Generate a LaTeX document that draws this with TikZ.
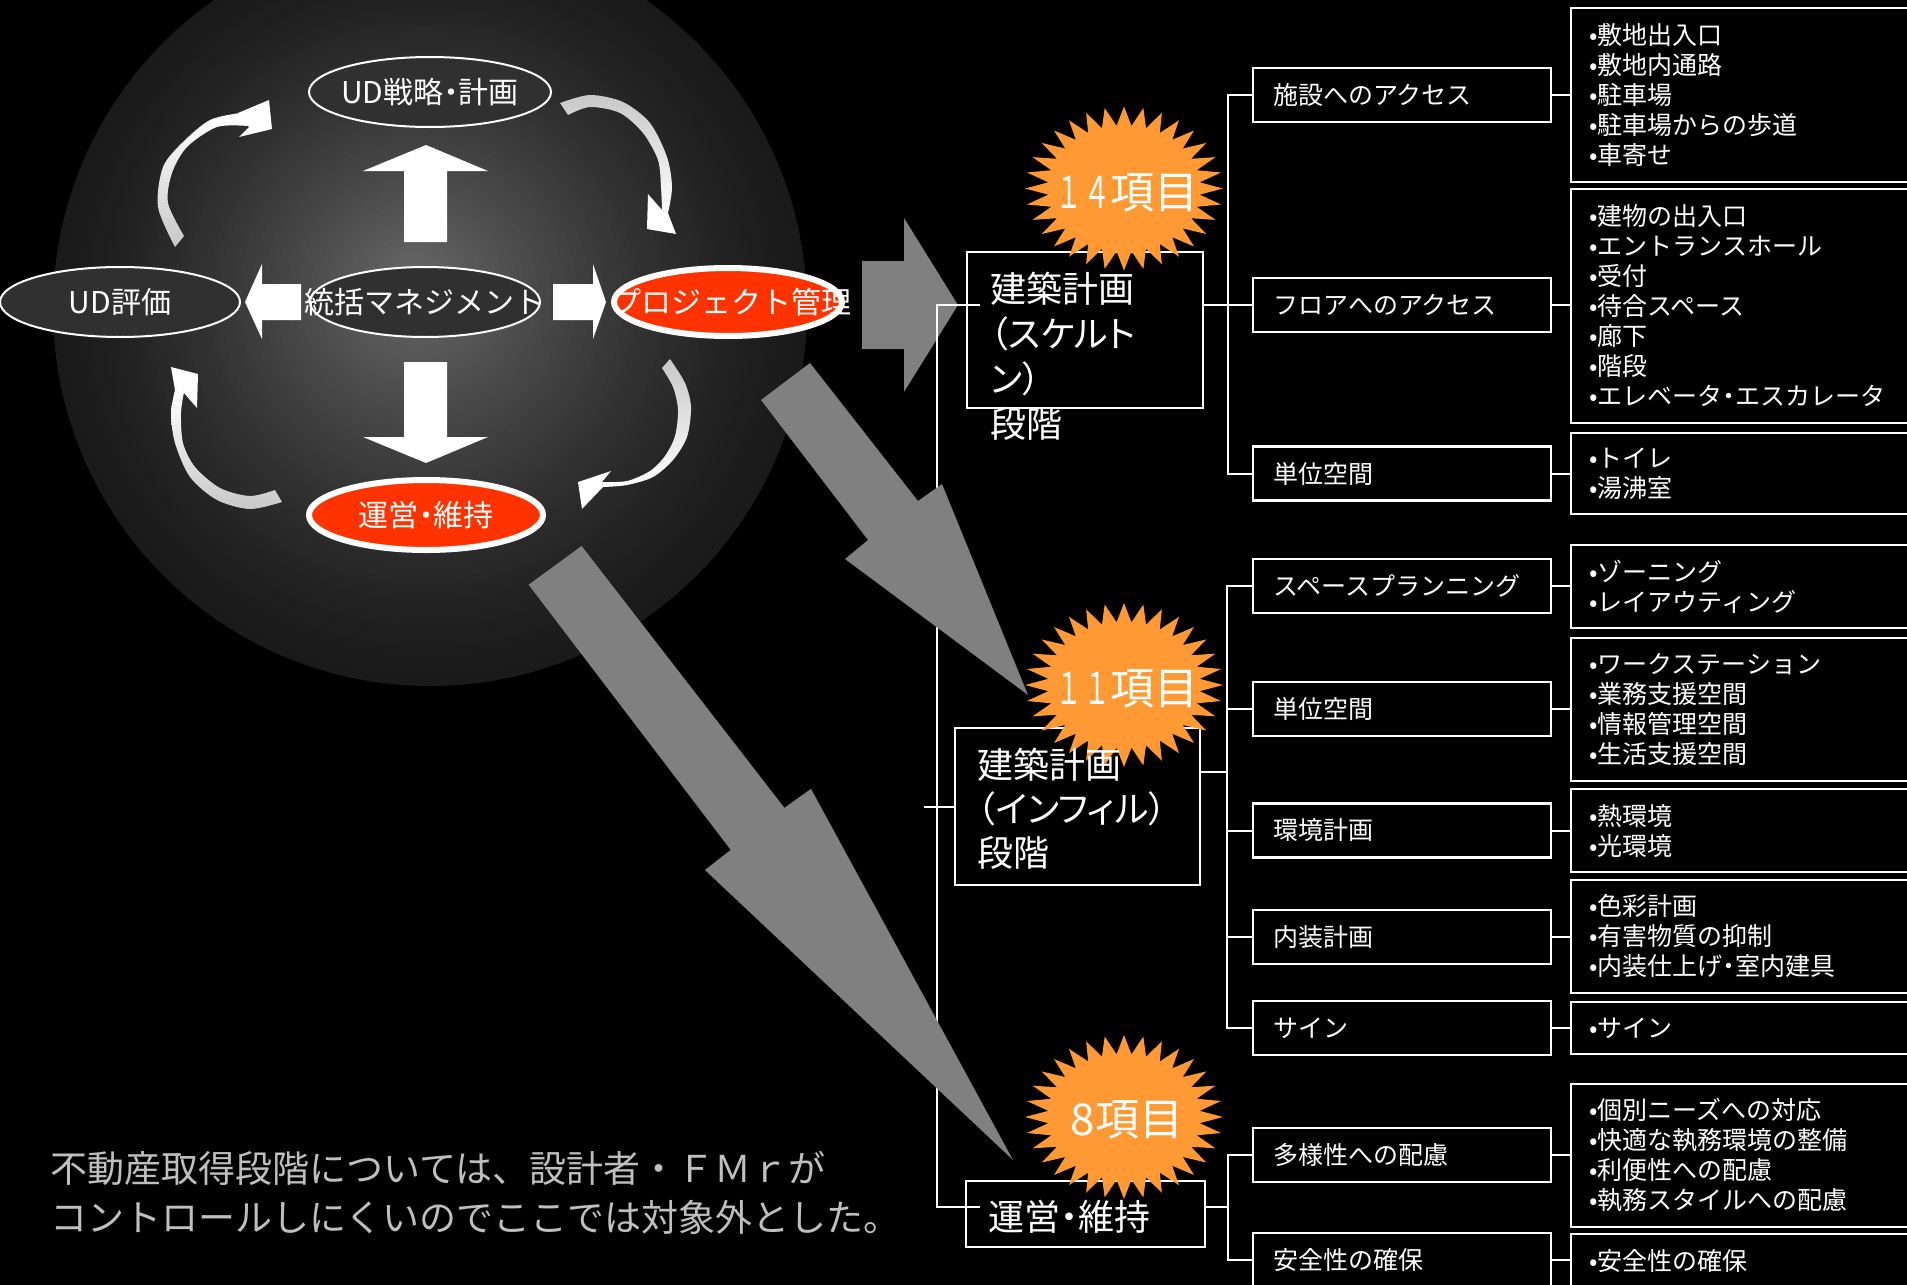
\documentclass[tikz,border=0pt]{standalone}
\usepackage{fontspec}
\setmainfont{Noto Sans CJK JP}
\newfontfamily\pf{Noto Sans CJK JP}[RawFeature=+palt]
\newcommand{\nd}{{\pf ・}}
\usetikzlibrary{calc}
\definecolor{redfill}{HTML}{FF3300}
\definecolor{starorange}{HTML}{FF9933}
\definecolor{arrowgray}{HTML}{808080}
\definecolor{ellfill}{HTML}{303030}
\definecolor{curvegray}{HTML}{C8C8C8}
\definecolor{notegray}{HTML}{BFBFBF}
\tikzset{
  conn/.style={draw=white, line width=1pt},
  thinell/.style={draw=white, line width=1pt, fill=ellfill},
  redell/.style={draw=white, line width=3pt, fill=redfill},
  elltext/.style={text=white, font=\fontsize{15}{18}\selectfont, inner sep=0pt},
  whitearrow/.style={fill=white},
  grayarrow/.style={fill=arrowgray},
  stagebox/.style={draw=white, line width=1.1pt, inner sep=0pt},
  stagetext/.style={text=white, align=left, inner sep=0pt, anchor=west},
  l2box/.style={draw=white, line width=1.1pt, fill=black, minimum height=27pt, inner xsep=10pt, inner ysep=0pt, text width=129pt, align=left, text=white, font=\fontsize{12.5}{15}\selectfont, anchor=west},
  l3box/.style={draw=white, line width=1.1pt, fill=black, inner xsep=9pt, inner ysep=0pt, text width=165pt, align=left, text=white, font=\fontsize{12.5}{15}\selectfont, anchor=west},
  startext/.style={text=white, font=\fontsize{22}{26}\selectfont, inner sep=0pt},
  notetext/.style={text=notegray, font=\fontsize{18.5}{24.5}\selectfont, align=left, inner sep=0pt, anchor=west},
  burst/.style={fill=starorange},
}
\begin{document}
\begin{tikzpicture}[x=0.5pt,y=-0.5pt]
\useasboundingbox (0,0) rectangle (1907,1285);
\fill[black] (0,0) rectangle (1907,1285);
% sphere: concentric rings, dark rim to light centre
\foreach \i in {0,...,59} {
  \pgfmathsetmacro\f{1-\i/60}
  \pgfmathsetmacro\g{0.102+0.313*pow(\i/60+0.0001,1.35)}
  \pgfmathsetmacro\cx{430-17*\i/60}
  \pgfmathsetmacro\cy{309-23*\i/60}
  \pgfmathsetmacro\rr{377*\f}
  \definecolor{sphtmp}{gray}{\g}
  \fill[sphtmp] (\cx,\cy) ellipse [x radius=\rr, y radius=\rr];
}

% ellipses
\draw[thinell] (430,92) ellipse [x radius=121, y radius=35];
\node[elltext] (strat) at (430,92) {UD戦略\nd 計画};
\draw[thinell] (120,302) ellipse [x radius=120, y radius=35];
\node[elltext] (eval) at (120,302) {UD評価};
\draw[thinell] (425,302) ellipse [x radius=115, y radius=35];
\node[elltext] (mgmt) at (424,302) {統括マネジメント};
\draw[redell] (728,302) ellipse [x radius=114, y radius=34];
\node[elltext] (proj) at (731,302) {プロジェクト管理};
\draw[redell] (426,515) ellipse [x radius=117, y radius=35];
\node[elltext] (ops) at (426,515) {運営\nd 維持};

% white block arrows
\fill[whitearrow] (404,242) -- (404,171) -- (363,171) -- (426,145) -- (488,171) -- (447,171) -- (447,242) -- cycle;
\fill[whitearrow] (404,362) -- (404,437) -- (363,437) -- (426,463) -- (488,437) -- (447,437) -- (447,362) -- cycle;
\fill[whitearrow] (301,284) -- (262,284) -- (262,264) -- (245,302) -- (262,339) -- (262,320) -- (301,320) -- cycle;
\fill[whitearrow] (553,284) -- (593,284) -- (593,264) -- (606,302) -- (593,339) -- (593,320) -- (553,320) -- cycle;

% curved arrows
\shade[top color=white, bottom color=curvegray] plot[smooth] coordinates {(175,247) (158,207) (163,167) (183,142) (210,120) (240,113)} -- plot[smooth] coordinates {(248,126) (217,127) (187,147) (172,173) (168,203) (184,236)} -- cycle;
\fill[white] (238,113) -- (269,100) -- (272,129) -- (239,137) -- (249,127) -- cycle;

\shade[top color=curvegray, bottom color=white] plot[smooth] coordinates {(560,103) (590,95) (623,102) (650,123) (667,157) (672,187) (668,213)} -- plot[smooth] coordinates {(662,210) (661,187) (658,160) (643,133) (620,113) (590,107) (568,115)} -- cycle;
\fill[white] (648,194) -- (647,229) -- (676,234) -- (668,213) -- (662,210) -- cycle;

\shade[top color=curvegray, bottom color=white] plot[smooth] coordinates {(670,359) (685,383) (691,407) (687,437) (673,460) (653,477) (627,485) (603,487)} -- plot[smooth] coordinates {(602,482) (627,481) (650,471) (665,456) (675,436) (678,410) (673,387) (662,368)} -- cycle;
\fill[white] (611,471) -- (578,482) -- (582,509) -- (603,487) -- (602,482) -- cycle;

\shade[top color=white, bottom color=curvegray] plot[smooth] coordinates {(282,502) (250,509) (217,500) (190,477) (175,443) (171,413) (175,390)} -- plot[smooth] coordinates {(184,392) (181,413) (183,443) (195,467) (220,488) (250,496) (275,490)} -- cycle;
\fill[white] (175,390) -- (171,367) -- (198,374) -- (197,408) -- (184,393) -- cycle;

% right gray arrow
\fill[grayarrow] (862,261) -- (904,261) -- (904,218) -- (958,305) -- (904,392) -- (904,349) -- (862,349) -- cycle;

% stage boxes
\node[stagebox, minimum width=118pt, minimum height=78pt] (s1) at (1085,330) {};
\node[stagebox, minimum width=122.5pt, minimum height=78.5pt] (s2) at (1077.5,806.5) {};
\node[stagebox, minimum width=119.5pt, minimum height=33pt] (s3) at (1085.5,1214) {};

% level-2 boxes
\node[l2box] (f1) at (1252,95) {施設へのアクセス};
\node[l2box] (f2) at (1252,305) {フロアへのアクセス};
\node[l2box] (f3) at (1252,473.5) {単位空間};
\node[l2box] (f4) at (1252,586) {スペースプランニング};
\node[l2box] (f5) at (1252,709) {単位空間};
\node[l2box] (f6) at (1252,830.5) {環境計画};
\node[l2box] (f7) at (1252,937) {内装計画};
\node[l2box] (f8) at (1252,1028) {サイン};
\node[l2box] (f9) at (1252,1155) {多様性への配慮};
\node[l2box] (f10) at (1252,1260) {安全性の確保};

% level-3 boxes
\node[l3box, minimum height=87pt] (l1) at (1570,95) {•敷地出入口\\•敷地内通路\\•駐車場\\•駐車場からの歩道\\•車寄せ};
\node[l3box, minimum height=117pt] (l2) at (1570,306) {•建物の出入口\\•エントランスホール\\•受付\\•待合スペース\\•廊下\\•階段\\•エレベータ\nd エスカレータ};
\node[l3box, minimum height=40.5pt] (l3) at (1570,473.5) {•トイレ\\•湯沸室};
\node[l3box, minimum height=41.5pt] (l4) at (1570,586.5) {•ゾーニング\\•レイアウティング};
\node[l3box, minimum height=71.5pt] (l5) at (1570,709.5) {•ワークステーション\\•業務支援空間\\•情報管理空間\\•生活支援空間};
\node[l3box, minimum height=41.5pt] (l6) at (1570,830.5) {•熱環境\\•光環境};
\node[l3box, minimum height=56.5pt] (l7) at (1570,936.5) {•色彩計画\\•有害物質の抑制\\•内装仕上げ\nd 室内建具};
\node[l3box, minimum height=26pt] (l8) at (1570,1028) {•サイン};
\node[l3box, minimum height=71.5pt] (l9) at (1570,1155.5) {•個別ニーズへの対応\\•快適な執務環境の整備\\•利便性への配慮\\•執務スタイルへの配慮};
\node[l3box, minimum height=27pt] (l10) at (1570,1261) {•安全性の確保};

% trunk connectors
\coordinate (j1) at (980,305);
\coordinate (j3) at (980,1207);
\coordinate (tb) at (937,1207);
\draw[conn] (j1) -| (tb) -- (j3);
\draw[conn] (s2.west) -- ++(-30,0);

% group connectors
\draw[conn] (s1.east |- f2.west) -- (f2.west);
\draw[conn] (f1.west) -- ++(-24,0) |- (f3.west);
\draw[conn] ($(s2.east)+(0,-34.5)$) -- ++(27,0);
\draw[conn] (f4.west) -- ++(-25,0) |- (f8.west);
\foreach \n in {f5,f6,f7} \draw[conn] (\n.west) -- ++(-25,0);
\draw[conn] ($(s3.east)+(0,-7)$) -- ++(23,0);
\draw[conn] (f9.west) -- ++(-24,0) |- (f10.west);
\foreach \i in {1,...,10} \draw[conn] (f\i.east) -- (l\i.west |- f\i.east);

% diagonal gray arrows
\fill[grayarrow] (761,400) -- (810,363) -- (918,501) -- (942,484) -- (1028,695) -- (845,559) -- (868,540) -- cycle;
\fill[grayarrow] (528.6,584.7) -- (581.6,546) -- (784.4,807.8) -- (811,788.8) -- (1013,1160) -- (704.9,870) -- (730.7,849.9) -- cycle;

% starbursts
\foreach \cy in {188.5,685,1117}
  \fill[burst] plot[samples=65, domain=0:64, variable=\k] ({1124+(87.5+11.5*cos(\k*180))*cos(90+\k*5.625)}, {\cy+(72.5+9.5*cos(\k*180))*sin(90+\k*5.625)}) -- cycle;
\node[startext] (n14) at (1127,193) {\scalebox{0.62}[1]{１４}項目};
\node[startext] (n11) at (1127,689) {\scalebox{0.62}[1]{１１}項目};
\node[startext] (n8) at (1127,1120) {8項目};

% stage texts
\node[stagetext, font=\pf\fontsize{18}{22.5}\selectfont] (s1t) at (990,356) {建築計画\\（スケルト\\ン）\\段階};
\node[stagetext, font=\pf\fontsize{18}{22}\selectfont] (s2t) at (977,809) {建築計画\\（インフィル）\\段階};
\node[stagetext, font=\pf\fontsize{18}{22}\selectfont] (s3t) at (988,1217) {運営・維持};

% note
\node[notetext] (note) at (50,1193) {不動産取得段階については、設計者・ＦＭｒが\\コントロールしにくいのでここでは対象外とした。};
\end{tikzpicture}
\end{document}
